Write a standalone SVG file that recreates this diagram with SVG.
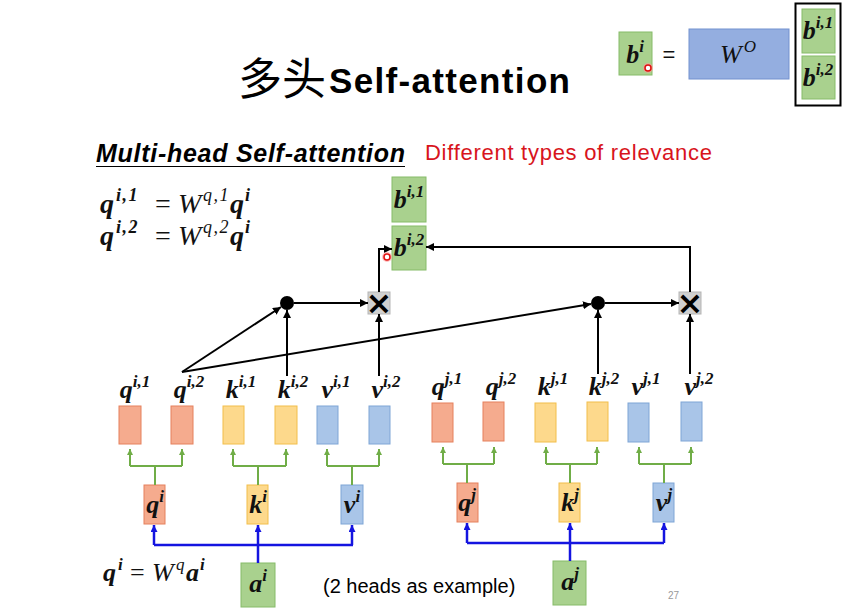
<svg xmlns="http://www.w3.org/2000/svg" width="842" height="612" viewBox="0 0 842 612">
<style>
.v{font-family:"Liberation Serif","DejaVu Serif",serif;font-style:italic;font-weight:bold;font-size:26px;fill:#111}
.w{font-family:"Liberation Serif","DejaVu Serif",serif;font-style:italic;font-size:26px;fill:#111}
.eq{font-family:"Liberation Serif","DejaVu Serif",serif;font-size:26px;fill:#111}
.sp{font-size:17px}
.f{font-size:28px}
.fs{font-size:18px;letter-spacing:1.5px}
.bq{fill:#f5ab8e;stroke:#e5805c;stroke-width:1}
.bk{fill:#fdd98c;stroke:#f2be4a;stroke-width:1}
.bv{fill:#a9c5e8;stroke:#7ea5d6;stroke-width:1}
.bg{fill:#a9d18e;stroke:#86bb68;stroke-width:1}
.blk{fill:none;stroke:#000;stroke-width:2}
.grn{fill:none;stroke:#70ad47;stroke-width:2}
.blu{fill:none;stroke:#1414e0;stroke-width:2.5}
.xb{fill:#d0d0d0;stroke:#b5b5b5;stroke-width:1}
.xt{font-family:"DejaVu Sans",sans-serif;font-size:32px;font-weight:bold;fill:#000}
</style>
<defs>
<marker id="ab" viewBox="0 0 10 10" refX="10" refY="5" markerUnits="userSpaceOnUse" markerWidth="8" markerHeight="8" orient="auto"><path d="M0,0 L10,5 L0,10 z" fill="#000"/></marker>
<marker id="ag" viewBox="0 0 10 10" refX="10" refY="5" markerUnits="userSpaceOnUse" markerWidth="6" markerHeight="6" orient="auto"><path d="M0,0 L10,5 L0,10 z" fill="#70ad47"/></marker>
<marker id="au" viewBox="0 0 10 10" refX="10" refY="5" markerUnits="userSpaceOnUse" markerWidth="7" markerHeight="7" orient="auto"><path d="M0,0 L10,5 L0,10 z" fill="#1414e0"/></marker>
</defs>
<rect width="842" height="612" fill="#fff"/>

<g id="title">
<text x="238" y="95" font-family="'Noto Sans CJK SC',sans-serif" font-size="44" fill="#000">多头</text>
<text x="329" y="93" font-family="'Liberation Sans',Arial,sans-serif" font-size="35" font-weight="bold" textLength="241" fill="#000">Self-attention</text>
</g>
<g id="subtitle">
<text x="96" y="162" font-family="'Liberation Sans',Arial,sans-serif" font-size="25" font-weight="bold" font-style="italic" textLength="309" fill="#000">Multi-head Self-attention</text>
<line x1="96" y1="166.5" x2="405" y2="166.5" stroke="#000" stroke-width="1.2"/>
<text x="425" y="160" font-family="'Liberation Sans',Arial,sans-serif" font-size="22" textLength="287" fill="#d8141c">Different types of relevance</text>
</g>

<g id="formula1">
<text class="v f" x="100" y="213">q</text><text class="v fs" x="116" y="201">i,1</text>
<text class="eq f" x="155" y="213">=</text>
<text class="w f" x="178" y="213">W</text><text class="w fs" x="203" y="201">q,1</text>
<text class="v f" x="230" y="213">q</text><text class="v fs" x="245" y="201">i</text>
</g>
<g id="formula2">
<text class="v f" x="100" y="245">q</text><text class="v fs" x="116" y="233">i,2</text>
<text class="eq f" x="155" y="245">=</text>
<text class="w f" x="178" y="245">W</text><text class="w fs" x="203" y="233">q,2</text>
<text class="v f" x="230" y="245">q</text><text class="v fs" x="245" y="233">i</text>
</g>
<g id="formula3">
<text class="v" x="103" y="581">q</text><text class="v sp" x="118" y="570">i</text>
<text class="eq" x="130" y="581">=</text>
<text class="w" x="152" y="581">W</text><text class="w sp" x="176" y="570">q</text>
<text class="v" x="186" y="581">a</text><text class="v sp" x="200" y="570">i</text>
</g>
<text x="323" y="593" font-family="'Liberation Sans',Arial,sans-serif" font-size="20" fill="#000">(2 heads as example)</text>
<text x="668" y="599" font-family="'Liberation Sans',Arial,sans-serif" font-size="10" fill="#999">27</text>

<g id="bi-top">
<rect class="bg" x="619" y="32" width="33" height="43"/>
<text class="v" x="635" y="63" text-anchor="middle">b<tspan class="sp" dy="-11">i</tspan></text>
</g>
<text x="669" y="62" font-family="'Liberation Sans',Arial,sans-serif" font-size="22" fill="#111" text-anchor="middle">=</text>
<g id="WO">
<rect x="689" y="29" width="100" height="50" fill="#94aee0" stroke="#7391cf" stroke-width="1"/>
<text class="w" x="738" y="63" text-anchor="middle">W<tspan class="sp" dy="-11" dx="2">O</tspan></text>
</g>
<g id="bstack">
<rect x="795.5" y="3.5" width="45" height="102" fill="none" stroke="#000" stroke-width="2"/>
<rect class="bg" x="802" y="9" width="33" height="44"/>
<text class="v" x="818" y="39" text-anchor="middle">b<tspan class="sp" dy="-11">i,1</tspan></text>
<rect class="bg" x="802" y="56" width="33" height="43"/>
<text class="v" x="818" y="86" text-anchor="middle">b<tspan class="sp" dy="-11">i,2</tspan></text>
</g>

<g id="bi1">
<rect class="bg" x="392" y="177" width="34" height="45"/>
<text class="v" x="409" y="208" text-anchor="middle">b<tspan class="sp" dy="-11">i,1</tspan></text>
</g>
<g id="bi2">
<rect class="bg" x="392" y="226" width="34" height="44"/>
<text class="v" x="409" y="256" text-anchor="middle">b<tspan class="sp" dy="-11">i,2</tspan></text>
</g>

<g id="dot1"><circle cx="287" cy="303" r="7" fill="#000"/></g>
<g id="mul1"><rect class="xb" x="368" y="292" width="22" height="22"/><text class="xt" x="379" y="314" text-anchor="middle">×</text></g>
<g id="dot2"><circle cx="598" cy="303" r="7" fill="#000"/></g>
<g id="mul2"><rect class="xb" x="679" y="292" width="22" height="22"/><text class="xt" x="690" y="314" text-anchor="middle">×</text></g>

<g id="qi1"><rect class="bq" x="119" y="406" width="22" height="38"/><text class="v" x="135" y="398" text-anchor="middle">q<tspan class="sp" dy="-11">i,1</tspan></text></g>
<g id="qi2"><rect class="bq" x="171" y="406" width="22" height="38"/><text class="v" x="189" y="398" text-anchor="middle">q<tspan class="sp" dy="-11">i,2</tspan></text></g>
<g id="ki1"><rect class="bk" x="223" y="406" width="21" height="38"/><text class="v" x="241" y="398" text-anchor="middle">k<tspan class="sp" dy="-11">i,1</tspan></text></g>
<g id="ki2"><rect class="bk" x="275" y="406" width="22" height="38"/><text class="v" x="293" y="398" text-anchor="middle">k<tspan class="sp" dy="-11">i,2</tspan></text></g>
<g id="vi1"><rect class="bv" x="317" y="406" width="21" height="38"/><text class="v" x="336" y="398" text-anchor="middle">v<tspan class="sp" dy="-11">i,1</tspan></text></g>
<g id="vi2"><rect class="bv" x="369" y="406" width="21" height="38"/><text class="v" x="386" y="398" text-anchor="middle">v<tspan class="sp" dy="-11">i,2</tspan></text></g>

<g id="qj1"><rect class="bq" x="432" y="403" width="21" height="39"/><text class="v" x="447" y="395" text-anchor="middle">q<tspan class="sp" dy="-11">j,1</tspan></text></g>
<g id="qj2"><rect class="bq" x="483" y="402" width="21" height="39"/><text class="v" x="501" y="395" text-anchor="middle">q<tspan class="sp" dy="-11">j,2</tspan></text></g>
<g id="kj1"><rect class="bk" x="535" y="403" width="21" height="39"/><text class="v" x="553" y="395" text-anchor="middle">k<tspan class="sp" dy="-11">j,1</tspan></text></g>
<g id="kj2"><rect class="bk" x="587" y="402" width="21" height="39"/><text class="v" x="604" y="395" text-anchor="middle">k<tspan class="sp" dy="-11">j,2</tspan></text></g>
<g id="vj1"><rect class="bv" x="628" y="403" width="21" height="39"/><text class="v" x="646" y="395" text-anchor="middle">v<tspan class="sp" dy="-11">j,1</tspan></text></g>
<g id="vj2"><rect class="bv" x="681" y="402" width="21" height="39"/><text class="v" x="699" y="395" text-anchor="middle">v<tspan class="sp" dy="-11">j,2</tspan></text></g>

<g id="qi"><rect class="bq" x="144" y="485" width="21" height="39"/><text class="v" x="155" y="513" text-anchor="middle">q<tspan class="sp" dy="-11">i</tspan></text></g>
<g id="ki"><rect class="bk" x="247" y="485" width="21" height="39"/><text class="v" x="258" y="513" text-anchor="middle">k<tspan class="sp" dy="-11">i</tspan></text></g>
<g id="vi"><rect class="bv" x="341" y="485" width="22" height="39"/><text class="v" x="352" y="513" text-anchor="middle">v<tspan class="sp" dy="-11">i</tspan></text></g>
<g id="qj"><rect class="bq" x="457" y="483" width="21" height="39"/><text class="v" x="467" y="511" text-anchor="middle">q<tspan class="sp" dy="-11">j</tspan></text></g>
<g id="kj"><rect class="bk" x="559" y="483" width="21" height="39"/><text class="v" x="570" y="511" text-anchor="middle">k<tspan class="sp" dy="-11">j</tspan></text></g>
<g id="vj"><rect class="bv" x="653" y="483" width="21" height="39"/><text class="v" x="664" y="511" text-anchor="middle">v<tspan class="sp" dy="-11">j</tspan></text></g>

<g id="ai"><rect class="bg" x="241" y="563" width="34" height="44"/><text class="v" x="258" y="592" text-anchor="middle">a<tspan class="sp" dy="-11">i</tspan></text></g>
<g id="aj"><rect class="bg" x="553" y="561" width="33" height="44"/><text class="v" x="570" y="590" text-anchor="middle">a<tspan class="sp" dy="-11">j</tspan></text></g>

<g id="connectors">
<g class="grn">
<path d="M155,485 V466 M130,466 H182 M258,485 V466 M233,466 H286 M352,485 V466 M327,466 H379"/>
<path d="M130,466 V449" marker-end="url(#ag)"/><path d="M182,466 V449" marker-end="url(#ag)"/>
<path d="M233,466 V449" marker-end="url(#ag)"/><path d="M286,466 V449" marker-end="url(#ag)"/>
<path d="M327,466 V449" marker-end="url(#ag)"/><path d="M379,466 V449" marker-end="url(#ag)"/>
<path d="M467,483 V464 M443,464 H494 M570,483 V464 M546,464 H597 M664,483 V464 M639,464 H691"/>
<path d="M443,464 V447" marker-end="url(#ag)"/><path d="M494,464 V447" marker-end="url(#ag)"/>
<path d="M546,464 V447" marker-end="url(#ag)"/><path d="M597,464 V447" marker-end="url(#ag)"/>
<path d="M639,464 V447" marker-end="url(#ag)"/><path d="M691,464 V447" marker-end="url(#ag)"/>
</g>
<g class="blu">
<path d="M154,545 H353"/>
<path d="M154,545 V525" marker-end="url(#au)"/><path d="M352,545 V525" marker-end="url(#au)"/>
<path d="M258,563 V525" marker-end="url(#au)"/>
<path d="M467,543 H664"/>
<path d="M467,543 V523" marker-end="url(#au)"/><path d="M664,543 V523" marker-end="url(#au)"/>
<path d="M570,561 V523" marker-end="url(#au)"/>
</g>
<g class="blk">
<path d="M182,372 L281,307" marker-end="url(#ab)"/>
<path d="M182,372 L591,304" marker-end="url(#ab)"/>
<path d="M287,376 V310" marker-end="url(#ab)"/>
<path d="M379,376 V314" marker-end="url(#ab)"/>
<path d="M598,374 V310" marker-end="url(#ab)"/>
<path d="M690,374 V314" marker-end="url(#ab)"/>
<path d="M294,303 H368" marker-end="url(#ab)"/>
<path d="M605,303 H679" marker-end="url(#ab)"/>
<path d="M379,292 V249 H392" marker-end="url(#ab)"/>
<path d="M690,292 V247 H426" marker-end="url(#ab)"/>
</g>
</g>

<g id="pointers">
<circle cx="648" cy="68" r="5" fill="#ff9a9a" opacity="0.6"/><circle cx="648" cy="68" r="3" fill="#fff" stroke="#e01010" stroke-width="1.5"/>
<circle cx="387" cy="257" r="5" fill="#ff9a9a" opacity="0.6"/><circle cx="387" cy="257" r="3" fill="#fff" stroke="#e01010" stroke-width="1.5"/>
</g>
</svg>
